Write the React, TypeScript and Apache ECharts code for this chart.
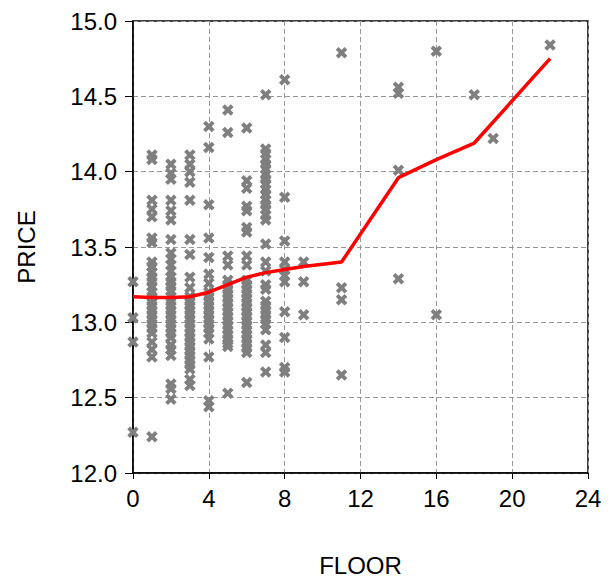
import React, { useEffect, useRef } from "react";
import * as echarts from "echarts";

// Scatter observations, grouped by FLOOR
const floor0 = [13.27, 13.03, 12.87, 12.27];
const floor1 = [14.11, 14.08, 13.81, 13.75, 13.7, 13.56, 13.53, 13.4, 13.37, 13.33, 13.3, 13.27, 13.24, 13.2, 13.17, 13.14, 13.11, 13.08, 13.05, 13.02, 12.99, 12.96, 12.93, 12.87, 12.82, 12.77, 12.24];
const floor2 = [14.05, 13.99, 13.95, 13.81, 13.74, 13.68, 13.55, 13.46, 13.42, 13.38, 13.34, 13.3, 13.27, 13.24, 13.21, 13.17, 13.14, 13.11, 13.08, 13.05, 13.02, 12.99, 12.96, 12.93, 12.9, 12.85, 12.82, 12.78, 12.59, 12.56, 12.49];
const floor3 = [14.11, 14.05, 14.0, 13.93, 13.81, 13.55, 13.45, 13.3, 13.23, 13.17, 13.14, 13.11, 13.08, 13.05, 13.02, 12.99, 12.96, 12.93, 12.9, 12.87, 12.84, 12.81, 12.78, 12.75, 12.72, 12.69, 12.62, 12.58];
const floor4 = [14.3, 14.16, 13.78, 13.56, 13.43, 13.32, 13.26, 13.2, 13.17, 13.14, 13.11, 13.08, 13.05, 13.02, 12.99, 12.96, 12.93, 12.89, 12.77, 12.48, 12.44];
const floor5 = [14.41, 14.26, 13.44, 13.38, 13.28, 13.25, 13.22, 13.19, 13.16, 13.13, 13.1, 13.07, 13.04, 13.01, 12.98, 12.95, 12.92, 12.89, 12.86, 12.84, 12.53];
const floor6 = [14.29, 13.94, 13.89, 13.77, 13.74, 13.63, 13.6, 13.44, 13.38, 13.28, 13.25, 13.22, 13.19, 13.16, 13.13, 13.1, 13.07, 13.04, 13.01, 12.98, 12.95, 12.92, 12.89, 12.86, 12.83, 12.8, 12.6];
const floor7 = [14.51, 14.15, 14.12, 14.08, 14.05, 14.02, 13.98, 13.95, 13.92, 13.88, 13.85, 13.81, 13.78, 13.75, 13.71, 13.68, 13.52, 13.4, 13.34, 13.25, 13.22, 13.14, 13.11, 13.08, 13.05, 13.02, 12.99, 12.95, 12.85, 12.8, 12.67];
const floor8 = [14.61, 13.83, 13.54, 13.4, 13.35, 13.31, 13.27, 13.07, 12.9, 12.7, 12.67];
const floor9 = [13.4, 13.27, 13.05];
const floor11 = [14.79, 13.23, 13.15, 12.65];
const floor14 = [14.56, 14.52, 14.01, 13.29];
const floor16 = [14.8, 13.05];
const floor18 = [14.51];
const floor19 = [14.22];
const floor22 = [14.84];

const floorGroups: [number, number[]][] = [
  [0, floor0], [1, floor1], [2, floor2], [3, floor3], [4, floor4], [5, floor5],
  [6, floor6], [7, floor7], [8, floor8], [9, floor9], [11, floor11], [14, floor14],
  [16, floor16], [18, floor18], [19, floor19], [22, floor22],
];

// Fitted (red) line
const fitX = [0, 1, 2, 3, 4, 5, 6, 7, 8, 9, 11, 14, 16, 18, 22];
const fitY = [13.17, 13.165, 13.165, 13.17, 13.2, 13.25, 13.3, 13.33, 13.35, 13.37, 13.4, 13.96, 14.08, 14.19, 14.75];

const xTicks = [0, 4, 8, 12, 16, 20, 24];
const yTicks = [12.0, 12.5, 13.0, 13.5, 14.0, 14.5, 15.0];

const CROSS = "path://M2.4,0 L5,2.6 L7.6,0 L10,2.4 L7.4,5 L10,7.6 L7.6,10 L5,7.4 L2.4,10 L0,7.6 L2.6,5 L0,2.4 Z";
const FONT = "'Liberation Sans', Arial, Helvetica, sans-serif";

export default function App() {
  const ref = useRef<HTMLDivElement>(null);
  useEffect(() => {
    if (!ref.current) return;
    const chart = echarts.init(ref.current, null, { renderer: "svg" });
    const scatterData: number[][] = [];
    floorGroups.forEach(([f, vals]) => vals.forEach((v) => scatterData.push([f, v])));
    const lineData = fitX.map((x, i) => [x, fitY[i]]);
    chart.setOption({
      animation: false,
      backgroundColor: "#ffffff",
      grid: {
        left: 133,
        top: 21,
        width: 455,
        height: 453,
        show: true,
        borderColor: "#000",
        borderWidth: 1.5,
        containLabel: false,
      },
      xAxis: {
        type: "value",
        min: xTicks[0],
        max: xTicks[xTicks.length - 1],
        interval: 4,
        name: "FLOOR",
        nameLocation: "middle",
        nameGap: 80,
        nameTextStyle: { fontFamily: FONT, fontSize: 24, color: "#000" },
        axisLine: { show: true, onZero: false, lineStyle: { color: "#000", width: 1.5 } },
        axisTick: { show: true, inside: false, length: 6, lineStyle: { color: "#000", width: 1 } },
        axisLabel: { fontFamily: FONT, fontSize: 24, color: "#000", margin: 13 },
        splitLine: { show: true, lineStyle: { color: "#999", width: 1, type: [5, 3] } },
      },
      yAxis: {
        type: "value",
        min: yTicks[0],
        max: yTicks[yTicks.length - 1],
        interval: 0.5,
        name: "PRICE",
        nameLocation: "middle",
        nameGap: 95,
        nameRotate: 90,
        nameTextStyle: { fontFamily: FONT, fontSize: 24, color: "#000" },
        axisLine: { show: true, onZero: false, lineStyle: { color: "#000", width: 1.5 } },
        axisTick: { show: true, inside: false, length: 8, lineStyle: { color: "#000", width: 1 } },
        axisLabel: {
          fontFamily: FONT,
          fontSize: 24,
          color: "#000",
          margin: 16,
          formatter: (v: number) => v.toFixed(1),
        },
        splitLine: { show: true, lineStyle: { color: "#999", width: 1, type: [5, 3] } },
      },
      series: [
        {
          type: "scatter",
          data: scatterData,
          symbol: CROSS,
          symbolSize: 11.5,
          itemStyle: { color: "#7f7f7f", opacity: 1 },
          z: 2,
        },
        {
          type: "line",
          data: lineData,
          showSymbol: false,
          symbol: "none",
          lineStyle: { color: "#ff0000", width: 3.5 },
          z: 3,
        },
      ],
    });
    return () => chart.dispose();
  }, []);
  return (
    <div
      ref={ref}
      style={{ position: "fixed", left: 0, top: 0, width: 613, height: 582, overflow: "hidden", background: "#fff" }}
    />
  );
}
